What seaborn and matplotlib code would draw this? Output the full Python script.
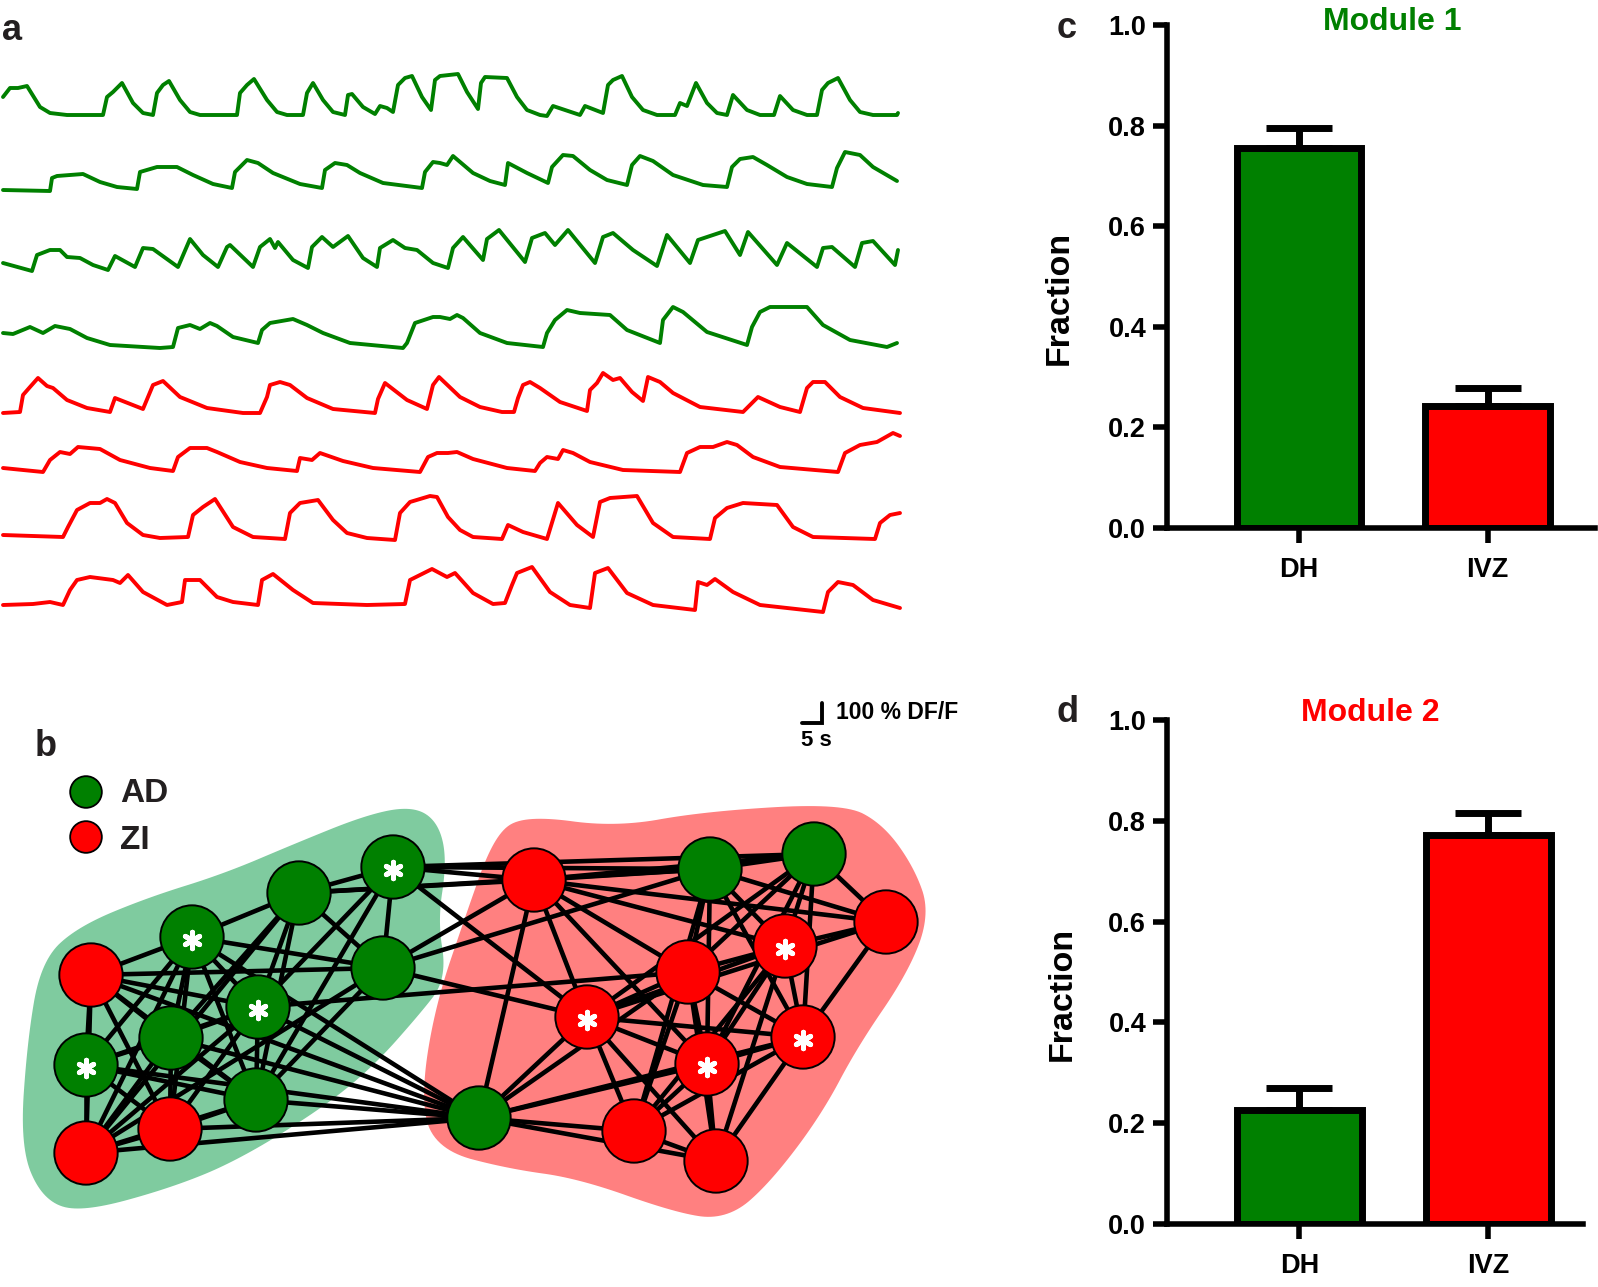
"""Calcium traces, functional network and module composition (panels a-d)."""

import numpy as np
import matplotlib
matplotlib.use("Agg")
import matplotlib.pyplot as plt
import seaborn as sns
import pandas as pd

sns.set_theme(style="white")
plt.rcParams["font.family"] = ["Liberation Sans", "DejaVu Sans"]
plt.rcParams["font.weight"] = "bold"

GREEN = "#008000"
RED = "#ff0000"
INK = "#231f20"
W, H = 1598, 1287

# ---- panel a: dF/F traces, (time s, dF/F %) ----
trace1 = [(0.75, 90), (2.5, 135), (4.5, 135), (6.75, 145), (10, 40), (12.5, 10), (16.75, 0), (25.75, 0),
          (26.75, 90), (28.25, 115), (30.5, 160), (33.25, 60), (35.75, 10), (38.25, 0), (39.25, 110),
          (40.75, 150), (42.25, 170), (45, 75), (47.5, 15), (50, 0), (59.25, 0), (60, 110), (61.75, 150),
          (63.5, 180), (66.75, 75), (69.25, 15), (71.75, 0), (75.75, 0), (76.75, 110), (78.25, 160),
          (80.75, 75), (83.25, 15), (86.25, 0), (87, 100), (88, 105), (90.75, 40), (93.75, 5), (95, 45),
          (96.75, 35), (98.25, 15), (99.5, 150), (101.25, 185), (103, 195), (105.5, 90), (107.75, 25),
          (108.75, 175), (110, 195), (114.5, 205), (116.75, 115), (119.5, 30), (120.25, 160), (121.25, 190),
          (126.75, 185), (129.25, 90), (131.75, 25), (135, 0), (136.75, -5), (138.25, 45), (145, 0),
          (146.25, 45), (150.75, 10), (152, 150), (153.25, 175), (155.5, 195), (158, 90), (160.75, 25),
          (164.25, 0), (168.75, 0), (170, 60), (171.75, 45), (174, 160), (176.75, 60), (179.25, 10),
          (181.75, 0), (183.25, 100), (186.75, 25), (190, 0), (193.5, 0), (195, 95), (198.25, 25),
          (201.75, 0), (204.25, 0), (205.5, 125), (207, 160), (209.5, 185), (212.5, 75), (215, 15),
          (218.25, 0), (224.25, 0), (224.5, 10)]
trace2 = [(0.75, 0), (12.5, -5), (13, 60), (14.25, 70), (20.75, 80), (25, 40), (29.25, 15), (34.25, 5),
          (35, 90), (39.25, 115), (44.25, 115), (48.25, 75), (53.25, 30), (58, 10), (58.75, 90), (61.75, 150),
          (64.5, 135), (68.25, 85), (75, 30), (80.5, 10), (81.25, 100), (83.75, 135), (86.75, 125), (90, 85),
          (95.75, 35), (105.5, 10), (106.25, 90), (108.25, 140), (110, 135), (111.75, 125), (113.25, 170),
          (118.25, 85), (122.5, 45), (126.25, 25), (127, 135), (131.75, 85), (137, 35), (138, 115),
          (140.75, 175), (143.25, 170), (147.5, 100), (151.75, 50), (156.75, 25), (158, 125), (160, 170),
          (163.25, 145), (168.25, 75), (175.75, 25), (181.75, 15), (183, 115), (185, 155), (188.25, 165),
          (191.75, 125), (196.75, 65), (201.75, 30), (208, 15), (209.25, 110), (211.25, 190), (215, 175),
          (218.25, 115), (224.25, 45)]
trace3 = [(0.75, 25), (8, -15), (9.25, 65), (12.5, 90), (15, 90), (16.75, 55), (20, 50), (23.25, 15),
          (27, -10), (28.75, 60), (33.75, 5), (35.75, 100), (38.25, 95), (44.5, 5), (47.5, 145), (50.75, 65),
          (54.5, 5), (56.75, 105), (57.5, 115), (63.25, 5), (65, 105), (67.5, 145), (68.75, 100), (69.5, 130),
          (73.25, 40), (77, 0), (78, 105), (80.5, 155), (83.25, 105), (87, 160), (90.75, 50), (94.25, 5),
          (95, 100), (98.25, 140), (101.25, 100), (104.25, 90), (108.25, 25), (112, 0), (113.25, 100),
          (115.75, 155), (120.75, 40), (121.75, 145), (124.75, 190), (131.25, 30), (133, 150), (136.25, 175),
          (138.75, 115), (142, 190), (148.75, 25), (150.75, 155), (153.25, 175), (158.25, 90), (164.25, 10),
          (166.75, 165), (172.5, 25), (174.5, 140), (181.25, 185), (185, 65), (187, 180), (194.25, 15),
          (196.75, 125), (204.25, 5), (205.75, 100), (208, 105), (213.75, 5), (215.5, 125), (218.25, 135),
          (223.75, 15), (224.5, 90)]
trace4 = [(0.75, 70), (3.25, 65), (7.5, 100), (10.75, 70), (13.75, 105), (17.5, 90), (21.75, 45), (27.5, 10),
          (40, -5), (43.25, 0), (44.5, 95), (47.5, 110), (50, 90), (52.5, 120), (54.25, 105), (58.25, 50),
          (64.5, 20), (65.5, 85), (67.5, 120), (73.25, 140), (76.75, 110), (80.75, 70), (87.5, 20),
          (100.75, -5), (101.75, 20), (103.75, 120), (108.25, 150), (110, 150), (112.5, 140), (114.25, 160),
          (115.75, 145), (120, 70), (126.75, 20), (135.75, 0), (136.75, 70), (138.75, 135), (141.75, 185),
          (145, 170), (152.5, 160), (156.75, 85), (165, 20), (165.75, 135), (168.25, 200), (170.75, 175),
          (176.75, 75), (186.75, 10), (188, 100), (190, 175), (192.5, 200), (201.75, 200), (205.75, 110),
          (212.5, 35), (221.75, 0), (224.25, 20)]
trace5 = [(0.75, 0), (5, 5), (5.75, 90), (7.5, 130), (9.5, 175), (11.75, 135), (13.25, 125), (16.75, 65),
          (21.75, 25), (27.5, 5), (28.75, 75), (35.75, 20), (37, 80), (38.25, 140), (40.75, 160), (45, 80),
          (51.75, 25), (60.75, 0), (65, 0), (66.75, 80), (67.5, 140), (70, 155), (72.5, 140), (76.75, 75),
          (83.25, 20), (93.75, 0), (94.5, 70), (96.25, 150), (101.75, 65), (106.75, 20), (108.25, 140),
          (109.75, 180), (115, 80), (120, 30), (125.5, 5), (128.5, 5), (129.5, 75), (130.75, 140),
          (132.5, 155), (135, 125), (140, 55), (146.75, 10), (147.5, 115), (149.25, 150), (150.75, 200),
          (153.25, 165), (155, 175), (158, 105), (160.75, 60), (162, 180), (165, 155), (168.25, 100),
          (175, 30), (185.75, 5), (187.5, 40), (189.5, 80), (195, 30), (200, 5), (201.75, 125), (203.25, 155),
          (206.25, 155), (210, 80), (215.75, 25), (225, 0)]
trace6 = [(0.75, 20), (10.75, 0), (12.5, 60), (15, 100), (17.5, 90), (19.5, 125), (25, 115), (30, 60),
          (37.5, 20), (43.25, 5), (44.5, 75), (47.5, 120), (51.75, 120), (54.25, 100), (60, 50), (66.75, 20),
          (74.25, 5), (75, 70), (78, 60), (80, 95), (85.75, 55), (93.25, 20), (105, 0), (107, 75),
          (109.25, 95), (112, 95), (114.25, 100), (118.25, 65), (126.75, 20), (133.75, 5), (135, 45),
          (136.75, 75), (139.5, 65), (140.75, 110), (143.25, 95), (147.5, 50), (155.75, 10), (170, 0),
          (171.75, 95), (175, 125), (178.25, 125), (181.75, 150), (184.25, 135), (188.25, 75), (195, 25),
          (209.5, 0), (211.25, 95), (215, 135), (219.25, 150), (223.25, 195), (225, 180)]
trace7 = [(0.75, 10), (15.75, 0), (17, 50), (19.25, 135), (22.5, 170), (25, 170), (26.75, 190), (28.75, 170),
          (31.75, 70), (35.75, 10), (40, -5), (47, 0), (48.25, 110), (50.75, 150), (53.75, 190), (58.25, 50),
          (63.25, 0), (71.25, -10), (72.5, 120), (75, 170), (79.5, 185), (83.25, 85), (86.75, 20),
          (91.75, -5), (98.75, -15), (100, 120), (102.5, 175), (107.5, 205), (109.25, 200), (112, 100),
          (115, 35), (118.25, 0), (125.5, -10), (127, 60), (130.75, 25), (136.75, -10), (139.5, 170),
          (144.25, 60), (148.25, 0), (150, 175), (152.5, 195), (159.25, 205), (163.25, 70), (168.25, 0),
          (177.5, -10), (178.75, 95), (181.75, 145), (185.75, 170), (194.25, 160), (198.25, 50),
          (203.25, 0), (218.75, -10), (220, 70), (222.5, 110), (225, 120)]
trace8 = [(0.75, 0), (8.25, 5), (12.5, 15), (15.75, 0), (17.5, 75), (19.25, 125), (22.5, 140), (28.25, 125),
          (30, 110), (32, 150), (35.75, 65), (41.75, 0), (45.5, 15), (46.25, 125), (50, 125), (54.25, 40),
          (58.25, 15), (64.5, 0), (65.5, 125), (68.25, 155), (73.25, 75), (78.25, 10), (91.75, 0),
          (101.25, 5), (102.5, 125), (108, 180), (111.75, 140), (113.75, 160), (118.25, 60), (123.25, 5),
          (126.25, 10), (128, 100), (129.25, 160), (133, 190), (137.5, 65), (142.5, 0), (147.5, -15),
          (148.75, 160), (152, 185), (156.75, 60), (163.25, 0), (173.75, -25), (174.5, 115), (176.75, 100),
          (178.75, 130), (183.25, 65), (190, 0), (205.75, -35), (207, 65), (209.5, 115), (213.25, 100),
          (218.25, 25), (225, -15)]
traces = [trace1, trace2, trace3, trace4, trace5, trace6, trace7, trace8]
trace_region = ["AD", "AD", "AD", "AD", "ZI", "ZI", "ZI", "ZI"]

# ---- panel b: network (layout units), node type, hub marks, edges ----
node_x = [91, 192, 299, 393, 383, 258, 171, 86, 170, 256, 86,
          479, 534, 710, 814, 886, 785, 688, 587, 803, 707, 634, 716]
node_y = [975, 937, 893, 867, 968, 1007, 1038, 1065, 1129, 1100, 1153,
          1118, 880, 869, 854, 922, 946, 972, 1017, 1037, 1064, 1131, 1161]
node_type = ["ZI", "AD", "AD", "AD", "AD", "AD", "AD", "AD", "ZI", "AD", "ZI",
             "AD", "ZI", "AD", "AD", "ZI", "ZI", "ZI", "ZI", "ZI", "ZI", "ZI", "ZI"]
hub_nodes = [1, 3, 5, 7, 16, 18, 19, 20]
edges = [(0, 1), (0, 4), (0, 5), (0, 6), (0, 7), (0, 8), (0, 9), (0, 10), (0, 11),
         (1, 2), (1, 4), (1, 5), (1, 6), (1, 7), (1, 8), (1, 9), (1, 10), (1, 11),
         (2, 3), (2, 4), (2, 5), (2, 6), (2, 9), (2, 10), (2, 12), (2, 13),
         (3, 4), (3, 5), (3, 9), (3, 12), (3, 13), (3, 14), (3, 18),
         (4, 9), (4, 10), (4, 12), (4, 13), (4, 18),
         (5, 6), (5, 7), (5, 8), (5, 9), (5, 10), (5, 11), (5, 17),
         (6, 7), (6, 8), (6, 9), (6, 10), (6, 11),
         (7, 8), (7, 9), (7, 10), (7, 11), (8, 9), (8, 10), (8, 11), (9, 10), (9, 11), (10, 11),
         (11, 12), (11, 17), (11, 18), (11, 19), (11, 20), (11, 21), (11, 22),
         (12, 13), (12, 14), (12, 15), (12, 16), (12, 17), (12, 18), (12, 20),
         (13, 14), (13, 15), (13, 16), (13, 17), (13, 19), (13, 20), (13, 21),
         (14, 15), (14, 16), (14, 17), (14, 18), (14, 19), (14, 20),
         (15, 16), (15, 18), (15, 19),
         (16, 17), (16, 18), (16, 19), (16, 20), (16, 21), (16, 22),
         (17, 18), (17, 19), (17, 20), (17, 21), (17, 22),
         (18, 19), (18, 20), (18, 21), (18, 22), (19, 20), (19, 21), (19, 22),
         (20, 21), (20, 22), (21, 22)]
module1_outline = [(410, 816), (430, 828), (437, 862), (428, 921), (437, 976), (413, 1007), (367, 1059),
                   (317, 1100), (233, 1152), (167, 1179), (83, 1202), (50, 1193), (30, 1145), (37, 1042),
                   (50, 966), (83, 935), (150, 907), (227, 883), (300, 852), (367, 825)]
module2_outline = [(502, 842), (527, 825), (616, 837), (706, 821), (841, 813), (877, 832), (906, 873),
                   (920, 914), (899, 969), (849, 1042), (813, 1110), (763, 1176), (724, 1210), (677, 1203),
                   (581, 1169), (509, 1159), (441, 1141), (431, 1093), (445, 1007), (474, 921)]

# ---- panels c, d: fraction of module members per region ----
regions = ["DH", "IVZ"]
module1_frac = [0.755, 0.242]
module1_sem = [0.041, 0.037]
module2_frac = [0.227, 0.771]
module2_sem = [0.042, 0.045]


def chaikin(points, n_iter=4):
    p = np.asarray(points, dtype=float)
    for _ in range(n_iter):
        q = np.roll(p, -1, axis=0)
        out = np.empty((2 * len(p), 2))
        out[0::2] = 0.75 * p + 0.25 * q
        out[1::2] = 0.25 * p + 0.75 * q
        p = out
    return p


fig = plt.figure(figsize=(W / 100, H / 100), dpi=100)

# ---------- panel b (layout axes over whole figure) ----------
ax_b = fig.add_axes([0, 0, 1, 1])
for outline, col in [(module1_outline, "#7fcb9f"), (module2_outline, "#ff8080")]:
    sm = chaikin(outline)
    ax_b.fill(sm[:, 0], sm[:, 1], color=col, lw=14, ec=col, joinstyle="round", zorder=0)
for i, j in edges:
    ax_b.plot([node_x[i], node_x[j]], [node_y[i], node_y[j]], color="black", lw=3.3,
              solid_capstyle="round", zorder=1)
nodes = pd.DataFrame({"x": node_x, "y": node_y, "type": node_type})
sns.scatterplot(data=nodes, x="x", y="y", hue="type", palette={"AD": GREEN, "ZI": RED},
                s=2080, edgecolor="black", linewidth=1.4, legend=False, ax=ax_b, zorder=3)
ax_b.scatter([node_x[k] for k in hub_nodes], [node_y[k] + 3 for k in hub_nodes],
             marker=(6, 2, 0), s=140, color="white", linewidths=3.6, zorder=4)
# legend
ax_b.scatter([86, 86], [792, 837], s=520, c=[GREEN, RED], edgecolors="black", linewidths=1.3, zorder=3)
ax_b.text(120, 802, "AD", fontsize=24, color=INK, va="baseline")
ax_b.text(120, 849, "ZI", fontsize=24, color=INK, va="baseline")
ax_b.set_xlim(0, W)
ax_b.set_ylim(H, 0)
ax_b.axis("off")

# ---------- panel a ----------
ax_a = fig.add_axes([0, 1 - 760 / H, 910 / W, 760 / H])
offsets = [575, 950, 1340, 1735, 2065, 2360, 2685, 3025]
for tr, reg, off in zip(traces, trace_region, offsets):
    arr = np.array(tr, dtype=float)
    sns.lineplot(x=arr[:, 0], y=arr[:, 1] - off, sort=False, estimator=None,
                 color=GREEN if reg == "AD" else RED, linewidth=2.8, ax=ax_a)
for ln in ax_a.lines:
    ln.set_solid_joinstyle("round")
# scale bar: 5 s, 100 % dF/F
ax_a.plot([200.5, 205.5, 205.5], [-3615, -3615, -3515], color="black", lw=2.8,
          solid_joinstyle="miter")
ax_a.text(209, -3565, "100 % DF/F", fontsize=16.5, va="center", ha="left", color="black")
ax_a.text(200.2, -3705, "5 s", fontsize=16, va="center", ha="left", color="black")
ax_a.set_xlim(0, 227.5)
ax_a.set_ylim(-3800, 0)
ax_a.axis("off")


# ---------- panels c, d ----------
def bar_panel(ax, frac, sem, xmax):
    df = pd.DataFrame({"region": regions, "frac": frac})
    sns.barplot(data=df, x="region", y="frac", hue="region", palette=[GREEN, RED],
                saturation=1, width=0.66, edgecolor="black", linewidth=5, errorbar=None,
                legend=False, ax=ax, zorder=2)
    ax.errorbar([0, 1], frac, yerr=[[0, 0], sem], fmt="none", ecolor="black",
                elinewidth=5, capsize=24, capthick=5, zorder=3)
    for ln in ax.lines:
        ln.set_solid_capstyle("round")
    ax.set_xlim(-0.70, xmax)
    ax.set_ylim(0, 1.0)
    ax.set_yticks(np.arange(0, 1.01, 0.2))
    ax.set_yticklabels([f"{v:.1f}" for v in np.arange(0, 1.01, 0.2)])
    ax.set_xlabel("")
    ax.set_ylabel("Fraction", fontsize=24.5, fontweight="bold", color="black")
    ax.yaxis.set_label_coords(-0.215, 0.457)
    for side in ["top", "right"]:
        ax.spines[side].set_visible(False)
    for side in ["left", "bottom"]:
        ax.spines[side].set_linewidth(4)
        ax.spines[side].set_color("black")
    ax.tick_params(axis="y", direction="out", length=10, width=4, labelsize=19.5, pad=5,
                   left=True, colors="black")
    ax.tick_params(axis="x", direction="out", length=11, width=4, labelsize=19.5, pad=10,
                   bottom=True, colors="black")
    ax.set_facecolor("none")
    ax.grid(False)


ax_c = fig.add_axes([1167 / W, 1 - 528 / H, 428 / W, 503 / H])
bar_panel(ax_c, module1_frac, module1_sem, 1.57)
ax_d = fig.add_axes([1167 / W, 1 - 1224 / H, 416 / W, 504 / H])
bar_panel(ax_d, module2_frac, module2_sem, 1.50)

fig.text(1392 / W, 1 - 30 / H, "Module 1", ha="center", va="baseline", fontsize=23, color=GREEN)
fig.text(1370 / W, 1 - 721 / H, "Module 2", ha="center", va="baseline", fontsize=23, color=RED)

# panel letters
for letter, x, y in [("a", 2, 40), ("b", 35, 756), ("c", 1057, 38), ("d", 1057, 722)]:
    fig.text(x / W, 1 - y / H, letter, fontsize=26, color=INK, va="baseline", ha="left")

fig.savefig("out.png", dpi=100)
plt.close(fig)
